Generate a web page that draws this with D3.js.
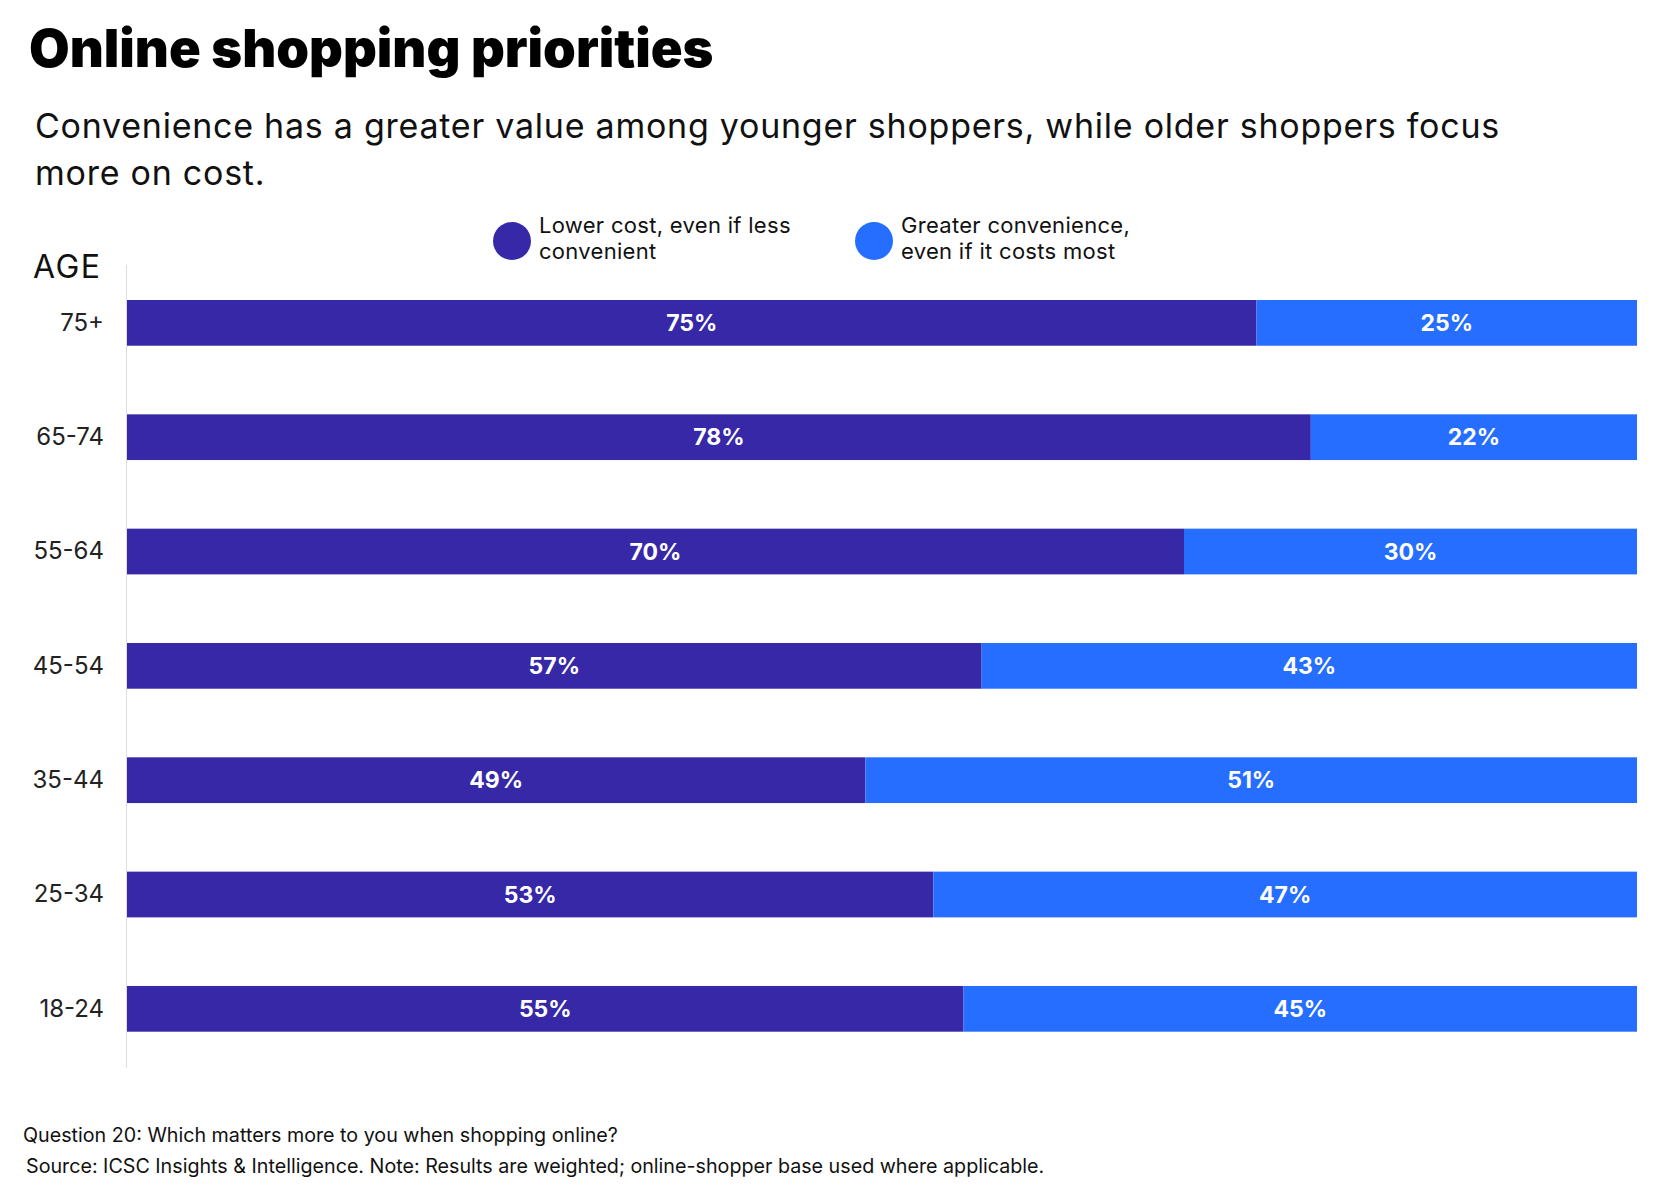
<!DOCTYPE html>
<html>
  <head>
    <title>Online shopping priorities</title>
    <style>
      body {
        margin: 0;
        background: #fff;
      }
    </style>
    <script src="https://d3js.org/d3.v7.min.js"></script>
  </head>
  <body>
    <svg id="chart" width="1670" height="1187"></svg>
  </body>

  <script>
    // shares; the labels show them rounded
    var ages = ['75+', '65-74', '55-64', '45-54', '35-44', '25-34', '18-24'];
    var lowerCost = [74.8, 78.4, 70.0, 56.6, 48.9, 53.4, 55.4];
    var convenience = [25.2, 21.6, 30.0, 43.4, 51.1, 46.6, 44.6];
    var seriesNames = ['Lower cost, even if less|convenient', 'Greater convenience,|even if it costs most'];
    var colors = ['#3728A8', '#256EFF'];

    var data = ages.map((a, i) => ({ age: a, low: lowerCost[i], conv: convenience[i] }));
    var keys = ['low', 'conv'];

    var svg = d3.select('#chart');
    var font = 'Inter, sans-serif';

    // header
    svg
      .append('text')
      .attr('x', 29)
      .attr('y', 67)
      .style('font', '900 52.5px ' + font)
      .attr('fill', '#000')
      .text('Online shopping priorities');

    var sub = svg
      .append('text')
      .style('font', '400 34px ' + font)
      .style('letter-spacing', '0.75px')
      .attr('fill', '#111');
    sub
      .append('tspan')
      .attr('x', 35)
      .attr('y', 138)
      .text('Convenience has a greater value among younger shoppers, while older shoppers focus');
    sub.append('tspan').attr('x', 35).attr('y', 185).text('more on cost.');

    var x = d3.scaleLinear().domain([0, 100]).range([127, 1637]);
    var y = d3
      .scaleBand()
      .domain(ages)
      .range([265.7, 1066])
      .paddingInner(0.6)
      .paddingOuter(0.3);
    var z = d3.scaleOrdinal().domain(keys).range(colors);

    // axis line
    svg
      .append('line')
      .attr('x1', 126.5)
      .attr('x2', 126.5)
      .attr('y1', 265)
      .attr('y2', 1068)
      .attr('stroke', '#ddd')
      .attr('stroke-width', 1);

    svg
      .append('text')
      .attr('x', 33)
      .attr('y', 278)
      .style('font', '400 32px ' + font)
      .style('letter-spacing', '1.5px')
      .attr('fill', '#111')
      .text('AGE');

    var yAxis = svg
      .append('g')
      .attr('transform', 'translate(127,0)')
      .call(d3.axisLeft(y).tickSize(0).tickPadding(23));
    yAxis.select('.domain').remove();
    yAxis
      .selectAll('text')
      .style('font', '400 24px ' + font)
      .attr('fill', '#222');

    var stacked = d3.stack().keys(keys)(data);

    var layer = svg
      .selectAll('g.layer')
      .data(stacked)
      .enter()
      .append('g')
      .attr('class', 'layer')
      .attr('fill', (d) => z(d.key));

    layer
      .selectAll('rect')
      .data((d) => d)
      .enter()
      .append('rect')
      .attr('x', (d) => x(d[0]))
      .attr('y', (d) => y(d.data.age))
      .attr('width', (d) => x(d[1]) - x(d[0]))
      .attr('height', y.bandwidth());

    layer
      .selectAll('text')
      .data((d) => d)
      .enter()
      .append('text')
      .attr('x', (d) => (x(d[0]) + x(d[1])) / 2)
      .attr('y', (d) => y(d.data.age) + y.bandwidth() / 2)
      .attr('dy', '0.36em')
      .attr('text-anchor', 'middle')
      .attr('fill', '#fff')
      .style('font', '700 23px ' + font)
      .text((d) => Math.round(d[1] - d[0]) + '%');

    // legend
    var legendX = [512, 874];
    var legend = svg
      .selectAll('g.legend')
      .data(keys)
      .enter()
      .append('g')
      .attr('class', 'legend')
      .attr('transform', (d, i) => `translate(${legendX[i]},241)`);
    legend
      .append('circle')
      .attr('r', 19)
      .attr('fill', (d) => z(d));
    var lt = legend
      .append('text')
      .style('font', '400 22px ' + font)
      .style('letter-spacing', '0.3px')
      .attr('fill', '#111');
    lt.selectAll('tspan')
      .data((d, i) => seriesNames[i].split('|'))
      .enter()
      .append('tspan')
      .attr('x', 27)
      .attr('y', (d, i) => -8 + i * 26)
      .text((d) => d);

    // footer
    svg
      .append('text')
      .attr('x', 23)
      .attr('y', 1142)
      .style('font', '400 19.7px ' + font)
      .attr('fill', '#111')
      .text('Question 20: Which matters more to you when shopping online?');
    svg
      .append('text')
      .attr('x', 26)
      .attr('y', 1173)
      .style('font', '400 19.7px ' + font)
      .attr('fill', '#111')
      .text('Source: ICSC Insights & Intelligence. Note: Results are weighted; online-shopper base used where applicable.');
  </script>
</html>
